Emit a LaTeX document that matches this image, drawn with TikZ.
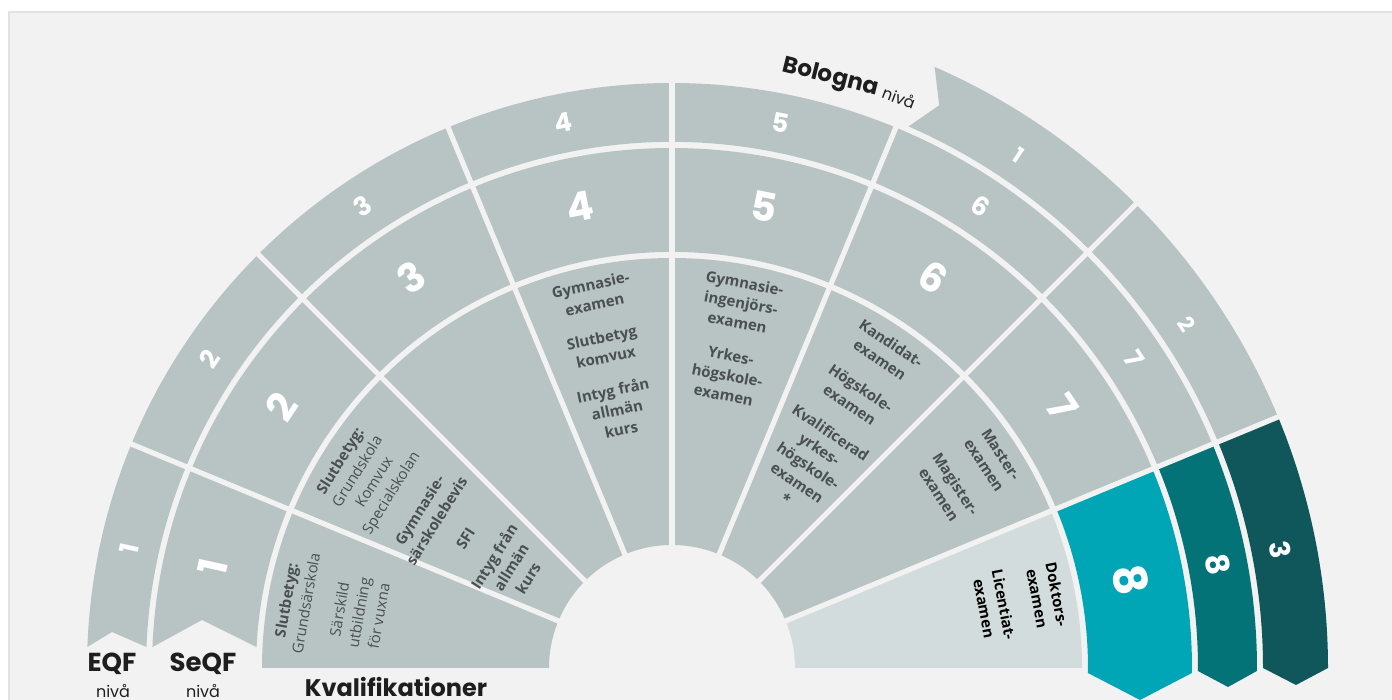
\documentclass[tikz,border=0pt]{standalone}
\usepackage{fontspec}
\setmainfont{Open Sans}
\newfontfamily\headfont{Poppins}
\usepackage{tikz}

\definecolor{panelbg}{HTML}{F2F2F2}
\definecolor{panelline}{HTML}{E2E2E2}
\definecolor{cellgrey}{HTML}{B8C4C4}
\definecolor{celllight}{HTML}{D3DCDC}
\definecolor{seqfcyan}{HTML}{00A6B6}
\definecolor{eqfteal}{HTML}{047378}
\definecolor{bolodark}{HTML}{10575B}
\definecolor{qualtext}{HTML}{4A4F50}
\definecolor{headtext}{HTML}{1E1E1E}

\tikzset{
    gapline/.style={draw=panelbg, line width=2.6pt},
    qual/.style={text=qualtext, align=center, inner sep=0pt, anchor=north,
        font=\fontsize{7.5}{10}\selectfont},
    qualb/.style={qual, font=\fontsize{7.5}{10}\selectfont\bfseries},
    eqfnum/.style={text=white, inner sep=0pt, font=\headfont\bfseries\fontsize{13}{13}\selectfont},
    seqfnum/.style={text=white, inner sep=0pt, font=\headfont\bfseries\fontsize{20}{20}\selectfont},
    bolonum/.style={text=white, inner sep=0pt, font=\headfont\bfseries\fontsize{11}{11}\selectfont},
    heading/.style={text=headtext, inner sep=0pt, anchor=base, font=\headfont\bfseries\fontsize{13}{13}\selectfont},
    nivalabel/.style={text=headtext, inner sep=0pt, anchor=base, font=\headfont\fontsize{8}{8}\selectfont},
}

\begin{document}
\begin{tikzpicture}[x=0.5pt, y=0.5pt]
    \useasboundingbox (0,0) rectangle (1392,700);
    \fill[white] (0,0) rectangle (1392,700);
    \draw[panelline, fill=panelbg, line width=1pt] (9,-20) rectangle (1410,688);

    \begin{scope}[shift={(672,32)}]
        \fill[cellgrey] (180:123) -- (180:410) arc[start angle=180, end angle=22.5, radius=410]
            -- (22.5:123) arc[start angle=22.5, end angle=180, radius=123] -- cycle;
        \fill[celllight] (22.5:123) -- (22.5:410) arc[start angle=22.5, end angle=0, radius=410]
            -- (0:123) arc[start angle=0, end angle=22.5, radius=123] -- cycle;

        \fill[cellgrey] (177.11:416) -- (-470,48) -- (177.69:520)
            arc[start angle=177.69, end angle=22.5, radius=520]
            -- (22.5:416) arc[start angle=22.5, end angle=177.11, radius=416] -- cycle;
        \fill[seqfcyan] (22.5:416) -- (22.5:520) arc[start angle=22.5, end angle=-0.55, radius=520]
            -- (468,-32) -- (-0.69:416) arc[start angle=-0.69, end angle=22.5, radius=416] -- cycle;

        \fill[cellgrey] (177.71:526) -- (-560,36) -- (177.94:585)
            arc[start angle=177.94, end angle=22.5, radius=585]
            -- (22.5:526) arc[start angle=22.5, end angle=177.71, radius=526] -- cycle;
        \fill[eqfteal] (22.5:526) -- (22.5:585) arc[start angle=22.5, end angle=-0.29, radius=585]
            -- (556,-19) -- (-0.33:526) arc[start angle=-0.33, end angle=22.5, radius=526] -- cycle;

        \fill[cellgrey] (66.4:591) -- (64.6:623) -- (66.4:656)
            arc[start angle=66.4, end angle=22.5, radius=656]
            -- (22.5:591) arc[start angle=22.5, end angle=66.4, radius=591] -- cycle;
        \fill[bolodark] (22.5:591) -- (22.5:656) arc[start angle=22.5, end angle=0, radius=656]
            -- (624,-17) -- (0:591) arc[start angle=0, end angle=22.5, radius=591] -- cycle;

        \foreach \a in {157.5,135,112.5,90,67.5}
            \draw[gapline] (\a:115) -- (\a:590);
        \foreach \a in {45,22.5}
            \draw[gapline] (\a:115) -- (\a:662);

        \foreach \n/\a in {1/167.6,2/146.25,3/123.75,4/101.25,5/78.75,6/56.25,7/33.75} {
            \node[eqfnum, rotate=\a-90] (eqf\n) at (\a:556) {\n};
            \node[seqfnum, rotate=\a-90] (seqf\n) at (\a:470) {\n};
        }
        \node[eqfnum, rotate=-79.3, font=\headfont\bfseries\fontsize{16}{16}\selectfont] (eqf8) at (10.7:556) {8};
        \node[seqfnum, rotate=-79.1, font=\headfont\bfseries\fontsize{23}{23}\selectfont] (seqf8) at (10.9:467) {8};

        \node[bolonum, rotate=-34] (bol1) at (56:619) {1};
        \node[bolonum, rotate=-56.2] (bol2) at (33.8:619) {2};
        \node[bolonum, rotate=-79, font=\headfont\bfseries\fontsize{14}{14}\selectfont] (bol3) at (11:620) {3};

        \node[qual, rotate=80] (kval1) at (170:398)
            {\textbf{Slutbetyg:}\\Grundsärskola\\[7pt]Särskild\\utbildning\\för vuxna};
        \node[qual, rotate=58] (kval2) at (148:398)
            {\textbf{Slutbetyg:}\\Grundskola\\Komvux\\Specialskolan\\[7pt]\textbf{Gymnasie-}\\\textbf{särskolebevis}\\[7pt]\textbf{SFI}\\[7pt]\textbf{Intyg från}\\\textbf{allmän}\\\textbf{kurs}};
        \node[qualb, rotate=12] (kval4) at (102:398)
            {Gymnasie-\\examen\\[7pt]Slutbetyg\\komvux\\[7pt]Intyg från\\allmän\\kurs};
        \node[qualb, rotate=-10.7] (kval5) at (79.3:398)
            {Gymnasie-\\ingenjörs-\\examen\\[7pt]Yrkes-\\högskole-\\examen};
        \node[qualb, rotate=-34] (kval6) at (56:398)
            {Kandidat-\\examen\\[7pt]Högskole-\\examen\\[7pt]Kvalificerad\\yrkes-\\högskole-\\examen\\*};
        \node[qualb, rotate=-57] (kval7) at (33:398)
            {Master-\\examen\\[7pt]Magister-\\examen};
        \node[qualb, text=black, rotate=-79.2] (kval8) at (10.8:398)
            {Doktors-\\examen\\[7pt]Licentiat-\\examen};

        \node[heading, anchor=center, rotate=-14, font=\headfont\bfseries\fontsize{11.5}{11.5}\selectfont] (bologna) at (75:611) {Bologna};
        \node[nivalabel, anchor=center, rotate=-21] (bolognaniva) at (68.3:614) {nivå};
    \end{scope}

    \node[heading] (eqf) at (112,28) {EQF};
    \node[nivalabel] (eqfniva) at (113,2) {nivå};
    \node[heading] (seqf) at (203,28) {SeQF};
    \node[nivalabel] (seqfniva) at (203,2) {nivå};
    \node[heading, font=\headfont\bfseries\fontsize{12}{12}\selectfont] (kvalifikationer) at (396,3) {Kvalifikationer};
\end{tikzpicture}
\end{document}
